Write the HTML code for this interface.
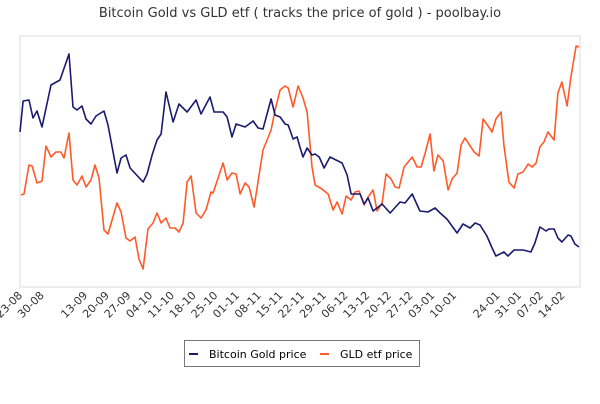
<!DOCTYPE html>
<html><head><meta charset="utf-8"><style>
body{margin:0;background:#fff;width:600px;height:400px;overflow:hidden;font-family:"DejaVu Sans","Liberation Sans",sans-serif}
</style></head><body>
<svg id="chart" width="600" height="400" xmlns="http://www.w3.org/2000/svg">
<text x="300" y="17" text-anchor="middle" font-size="13" fill="#333" font-family="DejaVu Sans, Liberation Sans, sans-serif">Bitcoin Gold vs GLD etf ( tracks the price of gold ) - poolbay.io</text>
<rect x="20" y="36" width="560" height="251" fill="none" stroke="#ddd" stroke-width="1"/>
<g id="lines"></g>
<g id="xlabels"></g>
<g>
<rect x="184.5" y="340.5" width="235" height="26" fill="#fff" stroke="#777"/>
<line x1="189" y1="354" x2="198" y2="354" stroke="#1a1a6e" stroke-width="2"/>
<text x="209" y="358" font-size="11" fill="#000">Bitcoin Gold price</text>
<line x1="320" y1="354" x2="329" y2="354" stroke="#ff5a28" stroke-width="2"/>
<text x="340" y="358" font-size="11" fill="#000">GLD etf price</text>
</g>
</svg>
<script>
const tickLabels=["23-08","30-08","13-09","20-09","27-09","04-10","11-10","18-10","25-10","01-11","08-11","15-11","22-11","29-11","06-12","13-12","20-12","27-12","03-01","10-01","24-01","31-01","07-02","14-02"];
const tickDays=[0,7,21,28,35,42,49,56,63,70,77,84,91,98,105,112,119,126,133,140,154,161,168,175];
const btgDays=[0,1,2.9,4.2,5.5,7.1,10,12.9,15.8,17.1,18.4,20,21.3,22.9,24.5,27.1,28.4,31.3,32.6,34.2,35.5,39.7,41,42.6,44.2,45.5,47.1,49.4,51.3,53.9,56.8,58.4,61.3,62.6,65.5,66.8,68.4,69.7,72.6,75.2,76.8,78.4,81,82.3,83.9,85.5,86.5,88.1,89.4,90.3,91.3,92.6,94.2,95.2,96.5,98.1,100,103.9,105.5,106.8,109.7,111,112.3,113.9,116.8,119.4,122.6,124.2,126.5,129,131.6,133.9,135.5,137.7,141,142.9,145.2,146.8,148.4,150.6,152.3,153.5,156.1,157.4,159.4,162.3,164.8,166.1,167.7,169.7,170.6,172.3,173.5,174.8,176.8,177.7,179,180.3];
const btgValues=[155,186,187,169,176,160,202,207,233,180,177,181,168,163,171,176,162,114,129,132,119,105,113,132,147,153,195,165,183,175,187,173,190,175,175,170,150,163,160,166,159,158,188,172,170,163,162,148,150,140,130,139,132,133,130,119,130,124,112,93,93,83,89,76,83,74,85,84,93,76,75,79,74,68,54,63,59,64,62,51,39,31,35,31,37,37,35,44,60,56,58,58,49,45,52,51,43,40];
const gldDays=[0.3,1.3,2.9,3.9,5.5,7.1,8.4,10,11.6,13.2,14.2,15.8,17.1,18.4,20,21.3,22.9,24.2,25.5,27.1,28.4,31.3,32.6,34.2,35.5,37.1,38.4,39.7,41.3,42.9,44.2,45.5,47.1,48.4,50,51.3,52.6,53.9,55.2,56.8,58.4,60,61.6,62.3,65.5,66.8,68.4,69.7,71,72.6,73.9,75.5,78.4,81,82.3,83.9,85.5,86.5,88.1,89.7,91.3,92.6,94.2,95.2,97.4,99.4,101,102.3,103.9,105.2,106.8,108.1,109.4,111,112.3,113.9,115.2,116.8,118.1,119.7,121,122.3,123.9,126.5,128.1,129.4,130.6,132.3,133.5,134.8,136.5,138.1,139.4,141,142.3,143.5,144.8,146.5,148.1,149.4,151,152.3,153.5,155.2,156.1,157.7,159.4,160.6,162.3,163.9,165.2,166.5,167.7,169,170.3,172.3,173.5,174.8,176.5,177.7,179.4,180.3];
const gldValues=[92,93,122,121,104,106,141,130,135,135,129,154,107,102,111,100,107,122,109,57,53,84,75,49,46,50,28,18,58,64,74,64,69,59,59,55,64,105,111,74,69,77,95,94,124,107,114,113,93,104,100,80,137,157,177,197,201,199,180,201,189,175,120,102,98,93,77,85,73,91,87,95,96,82,90,97,76,84,113,108,100,99,120,130,120,120,133,153,116,132,126,97,108,114,142,149,143,135,131,168,161,155,168,175,142,105,99,113,115,123,120,124,140,145,155,147,194,205,181,210,241,240];
const NS="http://www.w3.org/2000/svg";
const xS=d=>20+d*3.1;
const yS=v=>287-v*(251/251);
function line(days,vals,color,name){
  const n=Math.min(days.length,vals.length);let d="";
  for(let i=0;i<n;i++)d+=(i?"L":"M")+xS(days[i]).toFixed(1)+","+yS(vals[i]).toFixed(1);
  const p=document.createElementNS(NS,"path");
  p.setAttribute("d",d);p.setAttribute("fill","none");p.setAttribute("stroke",color);
  p.setAttribute("stroke-width","1.6");p.setAttribute("stroke-linejoin","round");
  
  
  document.getElementById("lines").appendChild(p);
}
line(gldDays,gldValues,"#ff5a28","gld-line");
line(btgDays,btgValues,"#1a1a6e","bitcoin-gold-line");
const g=document.getElementById("xlabels");
tickLabels.forEach((t,i)=>{
  const x=xS(tickDays[i])+3,y=296;
  const tx=document.createElementNS(NS,"text");
  tx.setAttribute("x",x);tx.setAttribute("y",y);
  tx.setAttribute("text-anchor","end");tx.setAttribute("font-size","11");tx.setAttribute("fill","#333");
  tx.setAttribute("transform","rotate(-45 "+x+" "+y+")");
  tx.textContent=t;
  
  
  g.appendChild(tx);
});
</script>
</body></html>
